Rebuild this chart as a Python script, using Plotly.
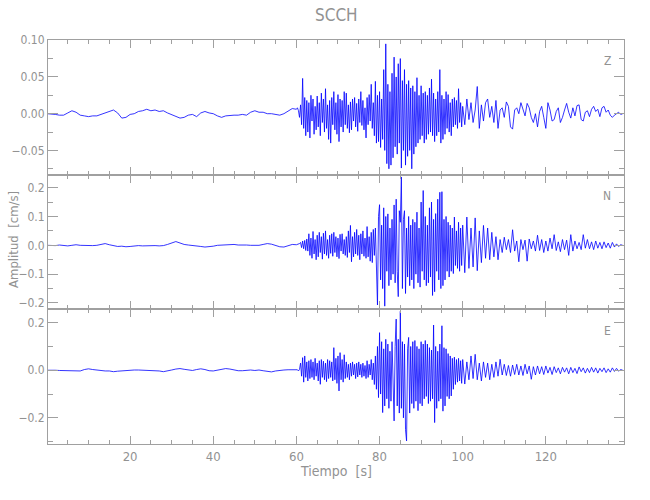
import numpy as np
import plotly.graph_objects as go
from plotly.subplots import make_subplots

# ---------------- data (amplitudes in 1e-3 cm/s) ----------------
# quiet part: one sample per second from t=0
z_quiet = [0, 0, -1, -2, -2, 1, 4, 2, -2, -3, -4, -3, -3, -1, 1, 3, 5, 1, -6, -5,
           -1, 0, 3, 4, 6, 4, 5, 3, 4, 1, -1, -4, -6, -5, -2, -1, -4, 1, 3, 1,
           0, -3, -5, -3, -2, -2, -2, -1, -2, 2, 4, 2, 2, 0, 0, -1, -2, 0, 4, 7]
n_quiet = [0, -1, -1, 1, 0, -2, 0, 2, 0, -1, -2, -1, 0, 4, 6, 2, -2, -4, -3, -5,
           -4, -2, -1, -2, -1, -2, -1, -2, -1, 3, 8, 13, 8, 3, 1, 0, -2, -4, -6, -5,
           -3, 0, 1, 3, 2, 3, 1, 2, 1, 0, -1, 0, 3, 6, 4, -1, -5, -6, -2, 3]
e_quiet = [0, 1, 0, -1, -1, 0, -1, -3, -3, 3, 6, 3, 0, -2, -3, -3, -6, -4, -2, -1,
           0, 1, 1, 0, 1, 1, 0, -3, -6, -4, 1, 5, 7, 4, 0, -1, 3, 6, 3, -2,
           -3, 0, 4, 7, 5, 0, -2, -2, 0, 1, -1, 1, -2, -6, -7, -3, 0, 1, 2, 1]

# strong motion: four samples per second from t=60
z_active = [6, 8, 4, -5,  12, -15, 48, -20,  22, -30, 18, -25,  15, -33, 25, -10,
            20, -28, 10, -22,  24, -18, 15, -30,  28, -12, 20, -25,  34, -20, 12, -35,
            18, -40, 22, -15,  30, -22, 15, -28,  26, -38, 20, -18,  18, -25, 30, -15,
            28, -20, 12, -26,  16, -22, 20, -10,  22, -18, 14, -24,  20, -12, 30, -16,
            18, -22, 8, -33,  22, -15, 26, -10,  40, -20, 15, -30,  44, -40, 25, -38,
            30, -46, 20, -35,  60, -50, 95, -68,  40, -75, 30, -70,  55, -60, 77, -45,
            50, -55, 68, -40,  75, -74, 45, -50,  60, -70, 40, -58,  45, -50, 35, -75,
            38, -55, 30, -45,  49, -40, 25, -35,  38, -30, 28, -40,  30, -35, 25, -28,
            35, -25, 47, -30,  28, -38, 20, -30,  30, -25, 60, -40,  25, -35, 20, -28,
            30, -20, 26, -25,  15, -30, 20, -18,  22, -15, 18, -20,  34, -12, 15, -18]
n_active = [2, 4, 3, 6,  10, -8, 15, -12,  17, -18, 22, -20,  40, -35, 25, -45,
            48, -30, 20, -50,  35, -40, 45, -25,  30, -48, 42, -30,  50, -35, 20, -45,
            35, -28, 40, -38,  45, -25, 30, -40,  25, -46, 38, -20,  40, -30, 20, -35,
            30, -42, 50, -25,  69, -57, 30, -40,  45, -30, 55, -35,  35, -50, 40, -30,
            50, -38, 25, -45,  65, -40, 30, -55,  45, -60, 55, -35,  60, -80, -207, 100,
            141, -120, 70, -150,  130, -211, 100, -90,  109, -140, 60, -120,  90, -100, 140, -130,
            160, -90, -178, 120,  80, 237, -150, 90,  120, -167, 60, -110,  100, -140, 70, -120,
            90, -150, 80, -100,  115, -130, 60, -145,  150, -90, 190, -120,  100, -140, 70, -130,
            130, -110, 150, -174,  90, -161, 110, -90,  160, -120, 184, -150,  186, -140, 90, -120,
            100, -90, 80, -110,  70, -90, 60, -98,  98, -70, 50, -80,  80, -90, 60, -70]
e_active = [0, 2, -3, 4,  30, -25, 53, -50,  60, -30, 35, -45,  40, -35, 45, -30,
            35, -40, 50, -25,  30, -45, 40, -59,  45, -30, 38, -40,  30, -48, 45, -35,
            40, -30, 35, -45,  95, -40, 50, -55,  60, -87, 74, -40,  45, -50, 65, -35,
            35, -30, 25, -40,  30, -25, 35, -20,  25, -35, 30, -28,  35, -20, 25, -30,
            30, -25, 20, -35,  40, -30, 25, -20,  45, -40, 30, -60,  60, -80, 100, -115,
            158, -100, 120, -178,  90, -150, 130, -120,  110, -160, 80, -130,  120, -140, -213, 100,
            215, -150, 130, -180,  248, -160, 120, -200,  110, -250, -297, 90,  138, -180, 100, -140,
            120, -160, 125, -130,  100, -170, 90, -140,  120, -150, 110, -120,  125, -110, 110, -140,
            95, -130, 85, -120,  190, -220, 100, -160,  80, -130, 110, -120,  187, -172, 95, -150,
            90, -110, 70, -120,  60, -108, 50, -80,  55, -60, 45, -50,  50, -45, 40, -55]

# coda: two samples per second from t=100
z_tail = [10, -15, 20, -8, 15, -12, 5, 37, -20, 12, -10, 15, 20, -5, 10, -12,
          18, -20, 5, 8, -5, 16, 10, -18, -21, 5, 8, 0, 15, 6, -3, 14,
          8, -5, -12, 0, -18, 3, 10, -5, -20, 15, 5, -10, -8, 3, 8, -12,
          -5, 5, 14, 2, -6, 8, -3, 11, 12, -8, -10, 2, 4, -4, 6, 10,
          3, 6, -4, 8, 10, 2, 5, -2, -5, -2, 0, 2, -1, 0]
n_tail = [70, -95, 98, -80, 60, -75, 95, -88, 50, -60, 69, -45, 60, -50, 45, -40,
          30, -50, 20, -25, 28, -15, 20, -25, 54, -20, 15, -57, 20, -15, 18, -55,
          22, -12, 15, -20, 35, -18, 20, -25, 15, -20, 25, -12, 37, -18, 12, -22,
          20, -15, 18, -35, 37, -20, 15, -12, 10, -15, 37, -10, 20, -12, 12, -15,
          15, -10, 10, -12, 12, -8, 8, -10, 10, -6, 5, -4, 2, 0]
e_tail = [45, -58, 35, -40, 60, -35, 67, -40, 30, -45, 35, -30, 30, -40, 25, -30,
          35, -25, 46, -20, 25, -22, 20, -25, 22, -18, 25, -20, 18, -22, 25, -15,
          18, -38, 15, -20, 18, -15, 15, -18, 18, -12, 12, -18, 15, -10, 10, -15,
          12, -8, 10, -15, 12, -10, 8, -14, 14, -6, 10, -12, 8, -10, 12, -8,
          10, -12, 8, -6, 10, -10, 6, -8, 10, -5, 8, -4, 3, 0]

components = ["Z", "N", "E"]
title_text = "SCCH"
x_title = "Tiempo  [s]"
y_title = "Amplitud  [cm/s]"

# sample times for each segment (1 s, 0.25 s, 0.5 s sampling)
def times(q, a, t):
    return np.concatenate([
        np.arange(len(q)) * 1.0,
        60 + np.arange(len(a)) * 0.25,
        100 + np.arange(len(t)) * 0.5,
    ])

series = [
    (z_quiet, z_active, z_tail),
    (n_quiet, n_active, n_tail),
    (e_quiet, e_active, e_tail),
]

GRAY = "#929292"
AX = "#a0a0a0"
FONT = "Liberation Sans Narrow, DejaVu Sans Condensed, Liberation Sans, sans-serif"

fig = make_subplots(rows=3, cols=1, shared_xaxes=True, vertical_spacing=0)

for i, (q, a, t) in enumerate(series):
    x = times(q, a, t)
    y = np.concatenate([q, a, t]) / 1000.0
    fig.add_trace(go.Scatter(x=x, y=y, mode="lines",
                             line=dict(color="#0000ff", width=0.8),
                             showlegend=False, hoverinfo="skip"),
                  row=i + 1, col=1)

xcommon = dict(range=[0.25, 138.8], showgrid=False, zeroline=False, showline=True,
               linecolor=AX, linewidth=1, mirror="ticks", ticks="inside",
               ticklen=8, tickcolor=AX, dtick=20, tick0=0,
               minor=dict(ticks="inside", dtick=5, ticklen=4, tickcolor=AX),
               tickfont=dict(family=FONT, size=13, color=GRAY))
for r in range(1, 4):
    fig.update_xaxes(**xcommon, row=r, col=1)

ycommon = dict(showgrid=False, zeroline=False, showline=True, linecolor=AX,
               linewidth=1, mirror="ticks", ticks="inside", ticklen=10,
               tickcolor=AX, tickfont=dict(family=FONT, size=12, color=GRAY))
fig.update_yaxes(**ycommon, range=[-0.083, 0.1003], dtick=0.05, tick0=0,
                 tickformat=".2f",
                 minor=dict(ticks="inside", dtick=0.025, ticklen=5, tickcolor=AX),
                 row=1, col=1)
fig.update_yaxes(**ycommon, range=[-0.222, 0.245], dtick=0.1, tick0=0,
                 tickformat=".1f",
                 minor=dict(ticks="inside", dtick=0.05, ticklen=5, tickcolor=AX),
                 row=2, col=1)
fig.update_yaxes(**ycommon, range=[-0.31, 0.256], dtick=0.2, tick0=0,
                 tickformat=".1f",
                 minor=dict(ticks="inside", dtick=0.1, ticklen=5, tickcolor=AX),
                 row=3, col=1)

ann = [
    dict(text=title_text, x=0.5, y=1.062, font=dict(size=17, color=GRAY, family=FONT)),
    dict(text=x_title, x=0.5, y=-0.068, font=dict(size=14, color=GRAY, family=FONT)),
    dict(text=y_title, x=-0.059, y=0.505, textangle=-90,
         font=dict(size=13, color=GRAY, family=FONT)),
]
for c, yy in zip(components, [0.948, 0.614, 0.280]):
    ann.append(dict(text=c, x=0.971, y=yy, font=dict(size=12, color=GRAY, family=FONT)))
for a_ in ann:
    a_.update(xref="paper", yref="paper", showarrow=False, xanchor="center", yanchor="middle")

fig.update_layout(width=650, height=500, paper_bgcolor="white", plot_bgcolor="white",
                  margin=dict(l=48, r=26, t=40, b=56), annotations=ann,
                  showlegend=False)

fig.write_html("out.html", config={"displayModeBar": False},
               post_script="document.body.style.margin='0';document.body.style.padding='0';")
